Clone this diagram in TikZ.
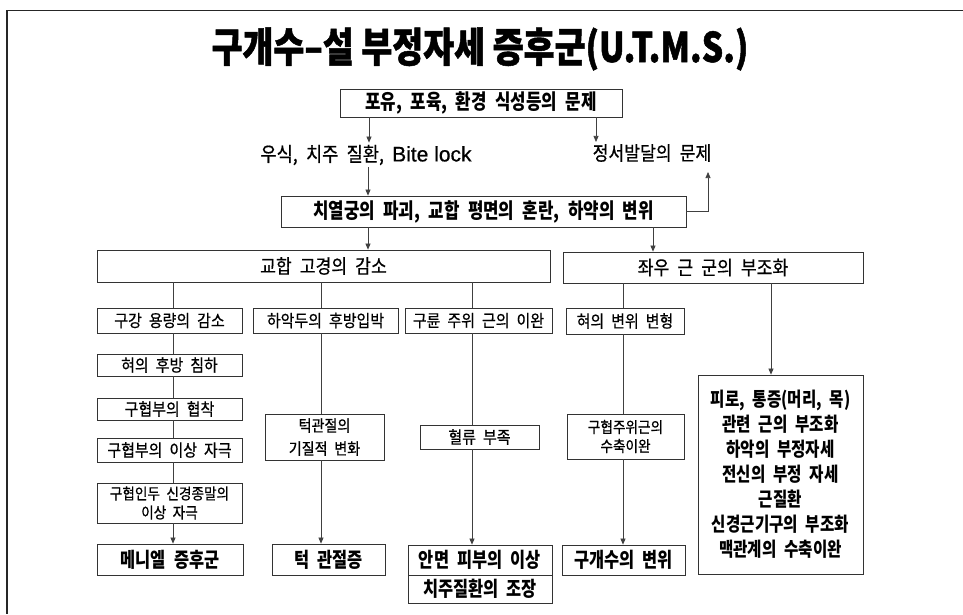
\documentclass[tikz,border=0pt]{standalone}
\usepackage{fontspec}
\usetikzlibrary{arrows.meta}
\newfontfamily\kr{Noto Sans CJK KR}[FakeStretch=0.88,WordSpace=2.1,FakeBold=0.6]
\newfontfamily\krb{Noto Sans CJK KR}[FakeStretch=0.8,WordSpace=2.2]
\newfontfamily\krt{Noto Sans CJK KR}[FakeStretch=0.82,BoldFeatures={FakeBold=1.2}]
\newfontfamily\lat{Liberation Sans}[FakeBold=0.6]
\tikzset{
  box/.style={draw=black!80, line width=0.8pt, inner sep=0pt, align=center, text=black},
  conn/.style={draw=black!75, line width=0.7pt},
  arr/.style={conn, -{Triangle[length=6pt,width=5pt]}},
  small/.style={font=\kr\fontsize{17}{19}\selectfont},
  mid/.style={font=\kr\fontsize{19.5}{22}\selectfont},
  bold/.style={font=\krb\bfseries\fontsize{21}{24}\selectfont},
  bottom/.style={font=\krb\bfseries\fontsize{20.5}{24}\selectfont},
}
\begin{document}
\begin{tikzpicture}[x=1pt,y=-1pt]
\useasboundingbox (0,0) rectangle (963,614);
\fill[white] (0,0) rectangle (963,614);
% frame
\draw[line width=1.6pt, black!85] (963,10.5) -- (7,10.5) -- (7,614);
% column x positions
\coordinate (xu) at (369,0);
\coordinate (xm) at (596,0);
\coordinate (xl) at (368,0);
\coordinate (xr) at (653,0);
\coordinate (colA) at (173,0);
\coordinate (colB) at (321,0);
\coordinate (colC) at (472,0);
\coordinate (colD) at (623,0);
\coordinate (colE) at (771,0);
% title
\node[inner sep=0pt, font=\krt\bfseries\fontsize{41}{44}\selectfont] (title) at (480,49) {구개수–설 부정자세 증후군(U.T.M.S.)};
% top chain
\node[box, bold, minimum width=282, minimum height=28] (b1) at (481,103) {포유, 포육, 환경 식성등의 문제};
\node[inner sep=2pt, font=\kr\fontsize{20}{22}\selectfont] (tus) at (366,155) {우식, 치주 질환, {\lat\fontsize{21}{22}\selectfont Bite lock}};
\node[inner sep=2pt, font=\kr\fontsize{19.5}{22}\selectfont] (tem) at (652,153) {정서발달의 문제};
\node[box, bold, minimum width=405, minimum height=31] (b2) at (483.5,211.5) {치열궁의 파괴, 교합 평면의 혼란, 하약의 변위};
\coordinate (emtip) at (708,172);
\node[box, mid, minimum width=453, minimum height=32] (b3) at (323.5,266) {교합 고경의 감소};
\node[box, mid, minimum width=300, minimum height=31] (b4) at (713,267.5) {좌우 근 군의 부조화};
% second row
\node[box, small, minimum width=145, minimum height=25] (c1) at (169.5,320.5) {구강 용량의 감소};
\node[box, small, minimum width=145, minimum height=25] (c2) at (325.5,320.5) {하악두의 후방입박};
\node[box, small, minimum width=147, minimum height=25] (c3) at (478.5,320.5) {구륜 주위 근의 이완};
\node[box, small, minimum width=118, minimum height=26] (c4) at (625,321) {혀의 변위 변형};
% column 1
\node[box, small, minimum width=145, minimum height=22] (d1) at (169.5,365) {혀의 후방 침하};
\node[box, small, minimum width=145, minimum height=22] (e1) at (169.5,409) {구협부의 협착};
\node[box, small, minimum width=145, minimum height=24] (f1) at (169.5,450) {구협부의 이상 자극};
\node[box, font=\kr\fontsize{15.5}{19}\selectfont, minimum width=145, minimum height=40] (g1) at (169.5,503) {구협인두 신경종말의\\이상 자극};
\node[box, bottom, minimum width=146, minimum height=31] (h1) at (170,559.5) {메니엘 증후군};
% column 2
\node[box, font=\kr\fontsize{16}{23}\selectfont, minimum width=119, minimum height=46] (d2) at (324.5,437) {턱관절의\\기질적 변화};
\node[box, bottom, minimum width=113, minimum height=31] (e2) at (328.5,559.5) {턱 관절증};
% column 3
\node[box, small, minimum width=119, minimum height=24] (d3) at (479.5,437) {혈류 부족};
\node[box, bottom, minimum width=144, minimum height=30] (e3) at (480,560) {안면 피부의 이상};
\node[box, bottom, minimum width=144, minimum height=28] (f3) at (480,589) {치주질환의 조장};
% column 4
\node[box, font=\kr\fontsize{15.5}{19}\selectfont, minimum width=117, minimum height=45] (d4) at (625.5,436.5) {구협주위근의\\수축이완};
\node[box, bottom, minimum width=123, minimum height=30] (e4) at (623.5,560) {구개수의 변위};
% column 5
\node[box, font=\krb\bfseries\fontsize{19.5}{25}\selectfont, minimum width=165, minimum height=199] (bb) at (780.5,474.5) {피로, 통증(머리, 목)\\관련 근의 부조화\\하악의 부정자세\\전신의 부정 자세\\근질환\\신경근기구의 부조화\\맥관계의 수축이완};
% connectors top
\draw[arr] (b1.south -| xu) -- (tus.north -| xu);
\draw[arr] (b1.south -| xm) -- (tem.north -| xm);
\draw[arr] (tus.south -| xl) -- (b2.north -| xl);
\draw[arr] (b2.east) -| (emtip);
\draw[arr] (b2.south -| xl) -- (b3.north -| xl);
\draw[arr] (b2.south -| xr) -- (b4.north -| xr);
% to second row
\draw[conn] (b3.south -| colA) -- (c1.north -| colA);
\draw[conn] (b3.south -| colB) -- (c2.north -| colB);
\draw[conn] (b3.south -| colC) -- (c3.north -| colC);
\draw[conn] (b4.south -| colD) -- (c4.north -| colD);
\draw[arr] (b4.south -| colE) -- (bb.north -| colE);
% column 1 chain
\draw[conn] (c1.south -| colA) -- (d1.north -| colA);
\draw[conn] (d1.south -| colA) -- (e1.north -| colA);
\draw[conn] (e1.south -| colA) -- (f1.north -| colA);
\draw[conn] (f1.south -| colA) -- (g1.north -| colA);
\draw[arr] (g1.south -| colA) -- (h1.north -| colA);
% column 2
\draw[conn] (c2.south -| colB) -- (d2.north -| colB);
\draw[arr] (d2.south -| colB) -- (e2.north -| colB);
% column 3
\draw[conn] (c3.south -| colC) -- (d3.north -| colC);
\draw[arr] (d3.south -| colC) -- (e3.north -| colC);
% column 4
\draw[conn] (c4.south -| colD) -- (d4.north -| colD);
\draw[arr] (d4.south -| colD) -- (e4.north -| colD);
\end{tikzpicture}
\end{document}
